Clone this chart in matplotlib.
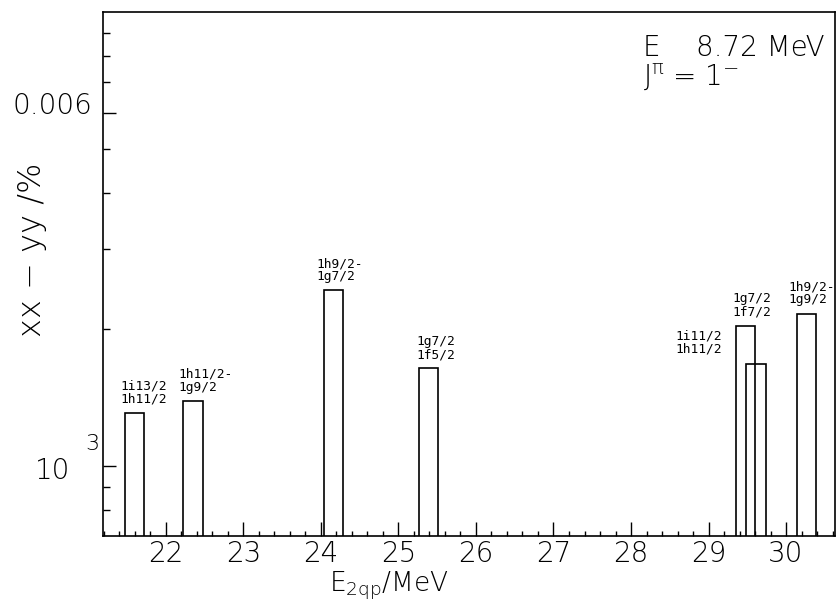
import matplotlib
matplotlib.use("Agg")
import matplotlib.pyplot as plt
import matplotlib.transforms as mtransforms
from matplotlib.ticker import FixedLocator, NullFormatter

# ---- data ----
energies = [21.60, 22.35, 24.16, 25.39, 29.48, 29.61, 30.26]          # E_2qp / MeV (bar centres)
values = [1.31e-3, 1.39e-3, 2.44e-3, 1.64e-3, 2.03e-3, 1.68e-3, 2.16e-3]
labels = ["1i13/2\n1h11/2", "1h11/2-\n1g9/2", "1h9/2-\n1g7/2", "1g7/2\n1f5/2",
          "1g7/2\n1f7/2", "1i11/2\n1h11/2", "1h9/2-\n1g9/2"]
x_ticks = [22, 23, 24, 25, 26, 27, 28, 29, 30]
y_major = [1e-3, 6e-3]
y_major_labels = ["10", "0.006"]

# ---- style ----
bar_width = 0.25
label_offsets = [(-5, 7), (-5, 7), (-7, 7), (-3, 7), (-4, 8), (-24, 8), (-8, 8)]
label_ha = ["left", "left", "left", "left", "left", "right", "left"]
ylabel_shift = [(-22, -2), (0, 10)]   # pixel shifts of the y tick labels

plt.rcParams["font.family"] = ["DejaVu Sans"]
plt.rcParams["mathtext.fontset"] = "custom"
plt.rcParams["mathtext.rm"] = "DejaVu Sans:light"
plt.rcParams["mathtext.it"] = "DejaVu Sans:light"
plt.rcParams["mathtext.bf"] = "DejaVu Sans:light"
plt.rcParams["mathtext.default"] = "rm"

fig = plt.figure(figsize=(8.4, 6.03), dpi=100)
ax = fig.add_axes([0.1226, 0.111, 0.8714, 0.869])

ax.set_yscale("log")
ax.set_xlim(21.19, 30.63)
ax.set_ylim(7e-4, 1e-2)

ax.bar(energies, [v - 1e-4 for v in values], bottom=1e-4, width=bar_width,
       fill=False, edgecolor="black", linewidth=1.2, align="center")

for e, v, lab, off, ha in zip(energies, values, labels, label_offsets, label_ha):
    ax.annotate(lab, xy=(e - bar_width / 2, v), xytext=off, textcoords="offset pixels",
                ha=ha, va="bottom", fontsize=9.3, family="DejaVu Sans Mono",
                linespacing=1.0)

# x ticks
ax.xaxis.set_major_locator(FixedLocator(x_ticks))
minor_x = [21.2 + 0.2 * i for i in range(48) if abs((21.2 + 0.2 * i) - round(21.2 + 0.2 * i)) > 1e-6]
ax.xaxis.set_minor_locator(FixedLocator(minor_x))
ax.set_xticklabels([str(t) for t in x_ticks], fontsize=20, fontweight="light")
ax.tick_params(axis="x", which="major", direction="in", length=10, width=1.0, pad=3)
ax.tick_params(axis="x", which="minor", direction="in", length=3.5, width=1.0)

# y ticks
ax.yaxis.set_major_locator(FixedLocator(y_major))
ax.set_yticklabels(y_major_labels, fontsize=20, fontweight="light")
minor_y = [8e-4, 9e-4, 2e-3, 3e-3, 4e-3, 5e-3, 7e-3, 8e-3, 9e-3]
ax.yaxis.set_minor_locator(FixedLocator(minor_y))
ax.yaxis.set_minor_formatter(NullFormatter())
ax.tick_params(axis="y", which="major", direction="in", length=9, width=1.0, pad=8)
ax.tick_params(axis="y", which="minor", direction="in", length=5, width=1.0)
for lbl, (dx, dy) in zip(ax.get_yticklabels(), ylabel_shift):
    lbl.set_transform(lbl.get_transform() + mtransforms.Affine2D().translate(dx, dy))
ax.annotate("3", xy=(0, 1e-3), xycoords=("axes fraction", "data"), xytext=(-4, 12),
            textcoords="offset pixels", ha="right", va="bottom", fontsize=16,
            fontweight="light")

for s in ax.spines.values():
    s.set_linewidth(1.2)

ax.set_xlabel(r"E$_{\rm 2qp}$/MeV", fontsize=19, fontweight="light", va="top")
ax.xaxis.set_label_coords(0.39, -0.062)
ax.set_ylabel("xx − yy /%", fontsize=23, fontweight="light")
ax.yaxis.set_label_coords(-0.077, 0.546)

ax.text(0.738, 0.958, "E    8.72 MeV\nJ$^{\\pi}$ = 1$^{-}$", transform=ax.transAxes,
        ha="left", va="top", fontsize=20, linespacing=0.95, fontweight="light")

fig.savefig("out.png", dpi=100)
